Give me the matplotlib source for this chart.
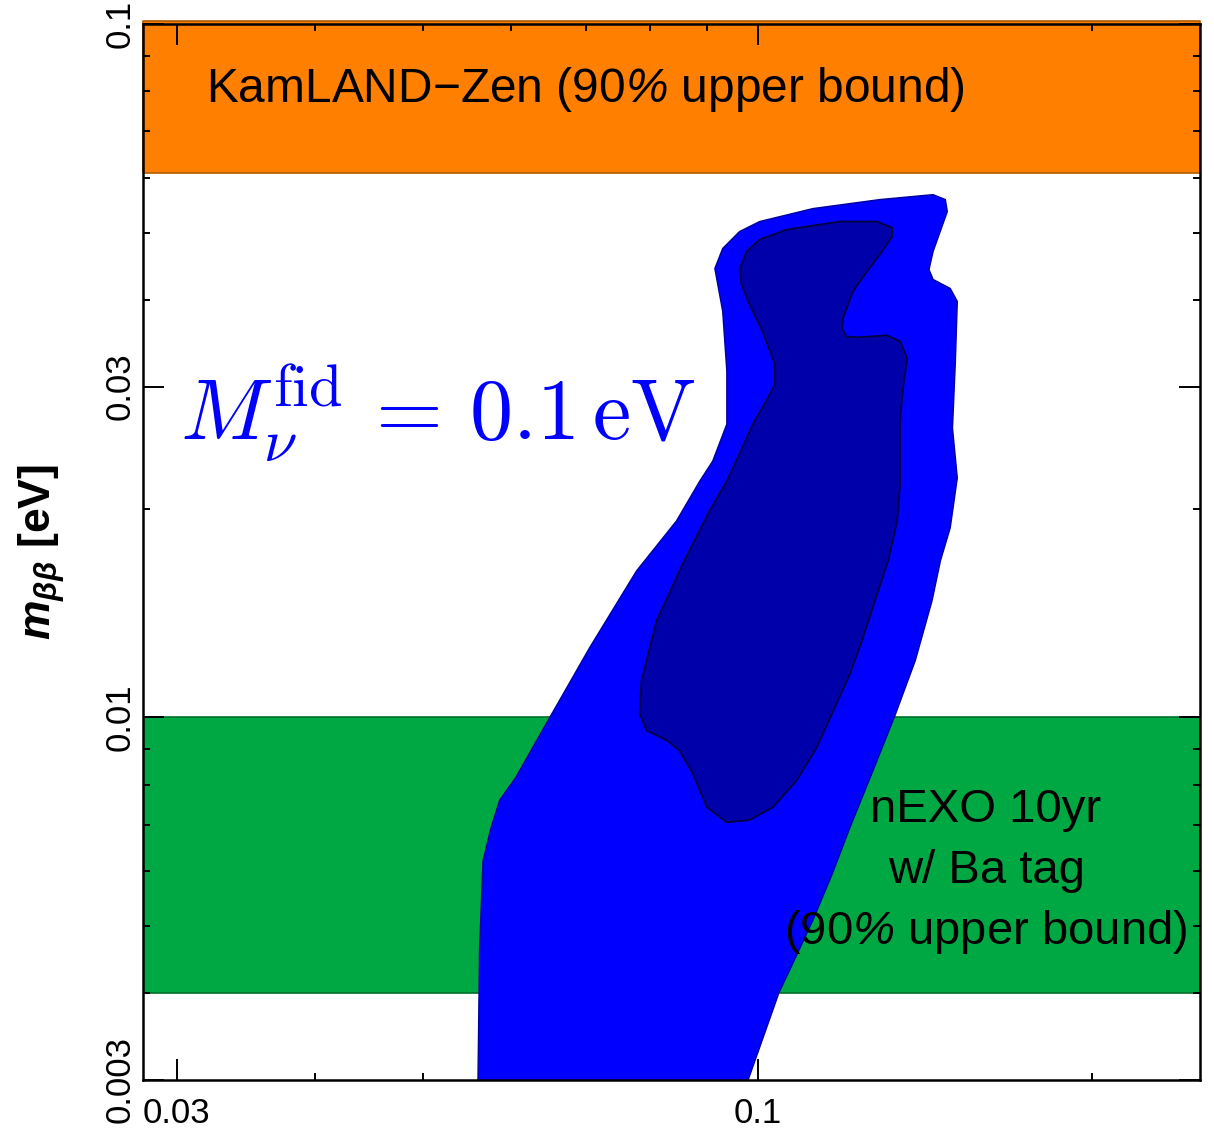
import matplotlib
matplotlib.use("Agg")
import matplotlib.pyplot as plt
from matplotlib.ticker import FixedLocator, FixedFormatter, LogLocator, NullFormatter

plt.rcParams['font.family'] = ['Liberation Sans', 'DejaVu Sans']
plt.rcParams['mathtext.fontset'] = 'custom'
plt.rcParams['mathtext.rm'] = 'Liberation Sans'
plt.rcParams['mathtext.it'] = 'Liberation Sans:italic'
plt.rcParams['mathtext.sf'] = 'Liberation Sans:italic'  # slanted percent sign
plt.rcParams['mathtext.bf'] = 'Liberation Sans:bold'
plt.rcParams['mathtext.bfit'] = 'Liberation Sans:italic:bold'

# experimental bounds on m_bb [eV]
kamland_bound = 0.061
nexo_bound = 0.004

# 95% region (outer) in the (M_nu, m_bb) plane
outer_mnu = [0.0560, 0.0562, 0.0566, 0.0575, 0.0586, 0.0606, 0.0653, 0.0706, 0.0778,
             0.0845, 0.0887, 0.0911, 0.0938, 0.0938, 0.0930, 0.0915, 0.0930, 0.0963,
             0.1004, 0.1121, 0.1288, 0.1438, 0.1475, 0.1481, 0.1438, 0.1426, 0.1438,
             0.1490, 0.1512, 0.1506, 0.1497, 0.1512, 0.1490, 0.1460, 0.1435, 0.1386,
             0.1329, 0.1270, 0.1211, 0.1166, 0.1121, 0.1069, 0.1045, 0.0973]
outer_mbb = [0.0029, 0.00462, 0.00620, 0.00690, 0.00760, 0.00820, 0.01013, 0.01261, 0.01627,
             0.01920, 0.02193, 0.02343, 0.02649, 0.03157, 0.03851, 0.04441, 0.04746, 0.05020,
             0.05190, 0.05418, 0.05583, 0.05675, 0.05583, 0.05364, 0.04698, 0.04426, 0.04282,
             0.04156, 0.03981, 0.03264, 0.02614, 0.02215, 0.01877, 0.01682, 0.01474, 0.01208,
             0.01007, 0.00839, 0.00695, 0.00593, 0.00510, 0.00433, 0.00401, 0.0029]

# 68% region (inner)
inner_mnu = [0.0963, 0.0977, 0.1004, 0.1062, 0.1186, 0.1280, 0.1321, 0.1321, 0.1288,
             0.1254, 0.1218, 0.1193, 0.1191, 0.1201, 0.1228, 0.1307, 0.1343, 0.1363,
             0.1351, 0.1343, 0.1343, 0.1335, 0.1310, 0.1275, 0.1241, 0.1211, 0.1130,
             0.1084, 0.1032, 0.0983, 0.0938, 0.0900, 0.0874, 0.0850, 0.0828, 0.0794,
             0.0783, 0.0786, 0.0811, 0.0856, 0.0905, 0.0938, 0.0959, 0.0990, 0.1021,
             0.1036, 0.1036, 0.1010, 0.0983, 0.0967]
inner_mbb = [0.04426, 0.04698, 0.04889, 0.05053, 0.05190, 0.05190, 0.05087, 0.04938, 0.04652,
             0.04397, 0.04115, 0.03763, 0.03640, 0.03544, 0.03533, 0.03557, 0.03487, 0.03296,
             0.02984, 0.02676, 0.02171, 0.01920, 0.01682, 0.01474, 0.01290, 0.01157, 0.00905,
             0.00811, 0.00742, 0.00711, 0.00706, 0.00742, 0.00831, 0.00896, 0.00927, 0.00958,
             0.01013, 0.01130, 0.01379, 0.01665, 0.01986, 0.02193, 0.02366, 0.02649, 0.02886,
             0.03023, 0.03231, 0.03604, 0.03942, 0.04212]

x_major = [0.03, 0.1]
x_labels = ['0.03', '0.1']
y_major = [0.003, 0.01, 0.03, 0.1]
y_labels = ['0.003', '0.01', '0.03', '0.1']

fig = plt.figure(figsize=(12.14, 11.39), dpi=100)
ax = fig.add_axes([0.118, 0.0518, 0.8705, 0.9271])
ax.set_xscale('log')
ax.set_yscale('log')
ax.set_xlim(0.028, 0.25)
ax.set_ylim(0.003, 0.1)

# bands
ax.fill_between([0.028, 0.25], kamland_bound, 0.1011, color='#ff8000',
                edgecolor='#b35a00', linewidth=1.2, clip_on=False, zorder=1)
ax.fill_between([0.028, 0.25], nexo_bound, 0.01, color='#00a843',
                edgecolor='#00702c', linewidth=1.2, zorder=1)

# allowed regions
ax.fill(outer_mnu, outer_mbb, facecolor='#0000ff', edgecolor='#0000a0', linewidth=1.0, zorder=2)
ax.fill(inner_mnu, inner_mbb, facecolor='#0000aa', edgecolor='#000040', linewidth=1.3, zorder=2)

ax.text(0.0593, 0.926, r'KamLAND$-$Zen (90$\mathsf{\%}$ upper bound)', transform=ax.transAxes,
        fontsize=34.5, ha='left', va='baseline', zorder=4)
nexo_lines = ['nEXO 10yr', 'w/ Ba tag', r'(90$\mathsf{\%}$ upper bound)']
for i, line in enumerate(nexo_lines):
    ax.text(0.7975, 0.2443 - 0.0578 * i, line, transform=ax.transAxes,
            fontsize=34, ha='center', va='baseline', zorder=4)

ax.text(0.0347, 0.606, r'$M_\nu^{\rm fid} \,=\, 0.1\,{\rm eV}$', transform=ax.transAxes,
        fontsize=62, color='#0000ff', ha='left', va='baseline', math_fontfamily='cm', zorder=4)

ax.xaxis.set_major_locator(FixedLocator(x_major))
ax.xaxis.set_major_formatter(FixedFormatter(x_labels))
ax.xaxis.set_minor_locator(LogLocator(base=10, subs=range(2, 10)))
ax.xaxis.set_minor_formatter(NullFormatter())
ax.yaxis.set_major_locator(FixedLocator(y_major))
ax.yaxis.set_major_formatter(FixedFormatter(y_labels))
ax.yaxis.set_minor_locator(LogLocator(base=10, subs=range(2, 10)))
ax.yaxis.set_minor_formatter(NullFormatter())

ax.tick_params(which='both', direction='in', top=True, right=True, width=1.4, labelsize=25)
ax.tick_params(which='major', length=15)
ax.tick_params(which='minor', length=5)
ax.tick_params(axis='x', which='major', pad=12)
ax.tick_params(axis='y', which='major', pad=5, labelrotation=90)
for lbl in ax.get_yticklabels():
    lbl.set_va('center')
for s in ax.spines.values():
    s.set_linewidth(1.8)
    s.set_zorder(3)

ax.set_ylabel(r'$\mathbfit{m}_{\mathbfit{\beta\beta}}$ [eV]', fontsize=32, fontweight='bold')
ax.yaxis.set_label_coords(-0.072, 0.5)

fig.savefig('out.png', dpi=100)
